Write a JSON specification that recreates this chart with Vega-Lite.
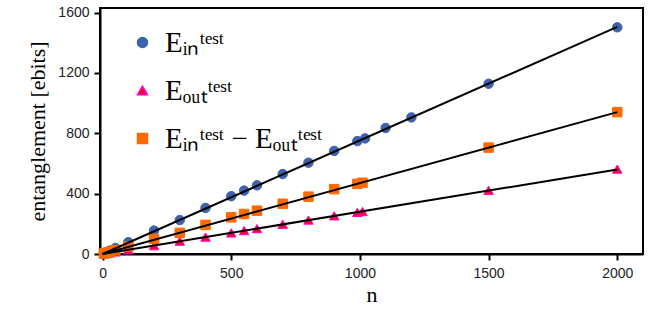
{
  "$schema": "https://vega.github.io/schema/vega-lite/v6.json",
  "width": 543,
  "height": 246,
  "autosize": {"type": "none"},
  "padding": {"left": 100, "top": 8, "right": 11, "bottom": 68},
  "background": "white",
  "config": {
    "view": {"stroke": "black", "strokeWidth": 2},
    "axis": {"grid": false, "domainColor": "black", "domainWidth": 2, "tickColor": "black", "tickWidth": 2, "tickSize": 6, "labelFont": "Liberation Sans", "labelFontSize": 14, "labelColor": "#222", "titleFont": "Liberation Serif", "titleFontSize": 22, "titleFontWeight": "normal", "titleColor": "black", "format": "d"}
  },
  "datasets": {
    "pts": [
      {"series": "Ein", "n": 5, "v": 4}, {"series": "Ein", "n": 10, "v": 8}, {"series": "Ein", "n": 20, "v": 15}, {"series": "Ein", "n": 30, "v": 23}, {"series": "Ein", "n": 50, "v": 40}, {"series": "Ein", "n": 100, "v": 78}, {"series": "Ein", "n": 200, "v": 155}, {"series": "Ein", "n": 300, "v": 225}, {"series": "Ein", "n": 400, "v": 305}, {"series": "Ein", "n": 500, "v": 383}, {"series": "Ein", "n": 550, "v": 420}, {"series": "Ein", "n": 600, "v": 455}, {"series": "Ein", "n": 700, "v": 530}, {"series": "Ein", "n": 800, "v": 605}, {"series": "Ein", "n": 900, "v": 683}, {"series": "Ein", "n": 990, "v": 748}, {"series": "Ein", "n": 1020, "v": 766}, {"series": "Ein", "n": 1100, "v": 835}, {"series": "Ein", "n": 1200, "v": 905}, {"series": "Ein", "n": 1500, "v": 1128}, {"series": "Ein", "n": 2000, "v": 1502},
      {"series": "Eout", "n": 5, "v": 1}, {"series": "Eout", "n": 10, "v": 3}, {"series": "Eout", "n": 20, "v": 6}, {"series": "Eout", "n": 30, "v": 8}, {"series": "Eout", "n": 50, "v": 14}, {"series": "Eout", "n": 100, "v": 28}, {"series": "Eout", "n": 200, "v": 55}, {"series": "Eout", "n": 300, "v": 85}, {"series": "Eout", "n": 400, "v": 112}, {"series": "Eout", "n": 500, "v": 140}, {"series": "Eout", "n": 550, "v": 155}, {"series": "Eout", "n": 600, "v": 168}, {"series": "Eout", "n": 700, "v": 197}, {"series": "Eout", "n": 800, "v": 225}, {"series": "Eout", "n": 900, "v": 253}, {"series": "Eout", "n": 990, "v": 276}, {"series": "Eout", "n": 1010, "v": 282}, {"series": "Eout", "n": 1500, "v": 422}, {"series": "Eout", "n": 2000, "v": 562},
      {"series": "Diff", "n": 5, "v": 3}, {"series": "Diff", "n": 10, "v": 5}, {"series": "Diff", "n": 20, "v": 9}, {"series": "Diff", "n": 30, "v": 15}, {"series": "Diff", "n": 50, "v": 26}, {"series": "Diff", "n": 100, "v": 50}, {"series": "Diff", "n": 200, "v": 100}, {"series": "Diff", "n": 300, "v": 140}, {"series": "Diff", "n": 400, "v": 193}, {"series": "Diff", "n": 500, "v": 243}, {"series": "Diff", "n": 550, "v": 265}, {"series": "Diff", "n": 600, "v": 287}, {"series": "Diff", "n": 700, "v": 333}, {"series": "Diff", "n": 800, "v": 380}, {"series": "Diff", "n": 900, "v": 430}, {"series": "Diff", "n": 990, "v": 465}, {"series": "Diff", "n": 1010, "v": 472}, {"series": "Diff", "n": 1500, "v": 705}, {"series": "Diff", "n": 2000, "v": 940}
    ],
    "fit": [
      {"series": "Ein", "n": 0, "v": 0}, {"series": "Ein", "n": 2000, "v": 1505},
      {"series": "Eout", "n": 0, "v": 0}, {"series": "Eout", "n": 2000, "v": 560},
      {"series": "Diff", "n": 0, "v": 0}, {"series": "Diff", "n": 2000, "v": 940}
    ]
  },
  "layer": [
    {
      "data": {"name": "pts"},
      "mark": {"type": "point", "filled": true, "opacity": 1, "strokeWidth": 1, "size": 90},
      "encoding": {
        "x": {"field": "n", "type": "quantitative", "scale": {"domain": [-10, 2100], "nice": false}, "axis": {"values": [0, 500, 1000, 1500, 2000], "title": "n", "labelPadding": 6, "titlePadding": 4}},
        "y": {"field": "v", "type": "quantitative", "scale": {"domain": [0, 1630], "nice": false}, "axis": {"values": [0, 400, 800, 1200, 1600], "title": "entanglement [ebits]", "labelPadding": 5, "titlePadding": 8}},
        "shape": {"field": "series", "type": "nominal", "scale": {"domain": ["Ein", "Eout", "Diff"], "range": ["circle", "triangle-up", "square"]},
          "legend": {"title": null, "orient": "none", "legendX": 28, "legendY": 20, "labelFont": "Liberation Serif", "labelFontSize": 29, "labelColor": "black", "rowPadding": 18, "symbolSize": 100, "symbolOpacity": 1, "labelOffset": 8, "labelLimit": 400,
            "labelExpr": "datum.value == 'Ein' ? 'Eᵢₙᵗᵉˢᵗ' : datum.value == 'Eout' ? 'Eₒᵤₜᵗᵉˢᵗ' : 'Eᵢₙᵗᵉˢᵗ − Eₒᵤₜᵗᵉˢᵗ'"}},
        "color": {"field": "series", "type": "nominal", "scale": {"domain": ["Ein", "Eout", "Diff"], "range": ["#3F62AD", "#FF0033", "#FF6A00"]},
          "legend": {"title": null, "orient": "none", "legendX": 28, "legendY": 20, "labelFont": "Liberation Serif", "labelFontSize": 29, "labelColor": "black", "rowPadding": 18, "symbolSize": 100, "symbolOpacity": 1, "labelOffset": 8, "labelLimit": 400,
            "labelExpr": "datum.value == 'Ein' ? 'Eᵢₙᵗᵉˢᵗ' : datum.value == 'Eout' ? 'Eₒᵤₜᵗᵉˢᵗ' : 'Eᵢₙᵗᵉˢᵗ − Eₒᵤₜᵗᵉˢᵗ'"}},
        "stroke": {"field": "series", "type": "nominal", "scale": {"domain": ["Ein", "Eout", "Diff"], "range": ["#3F62AD", "#FF00CC", "#FF6A00"]},
          "legend": {"title": null, "orient": "none", "legendX": 28, "legendY": 20, "labelFont": "Liberation Serif", "labelFontSize": 29, "labelColor": "black", "rowPadding": 18, "symbolSize": 100, "symbolOpacity": 1, "labelOffset": 8, "labelLimit": 400,
            "labelExpr": "datum.value == 'Ein' ? 'Eᵢₙᵗᵉˢᵗ' : datum.value == 'Eout' ? 'Eₒᵤₜᵗᵉˢᵗ' : 'Eᵢₙᵗᵉˢᵗ − Eₒᵤₜᵗᵉˢᵗ'"}}
      }
    },
    {
      "data": {"name": "fit"},
      "mark": {"type": "line", "color": "black", "strokeWidth": 2},
      "encoding": {
        "x": {"field": "n", "type": "quantitative"},
        "y": {"field": "v", "type": "quantitative"},
        "detail": {"field": "series"}
      }
    }
  ]
}
